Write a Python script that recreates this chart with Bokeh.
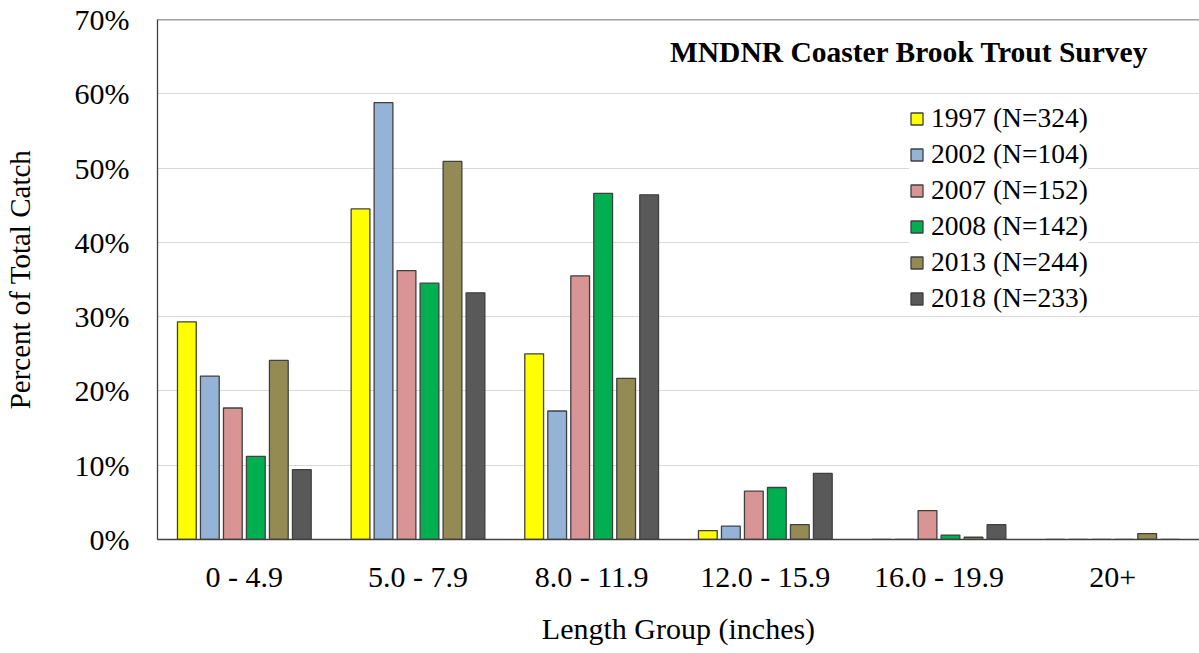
from bokeh.plotting import figure
from bokeh.models import (ColumnDataSource, FactorRange, Range1d, FixedTicker,
                          PrintfTickFormatter, Span, Label, Legend)
from bokeh.transform import dodge
from bokeh.embed import file_html
from bokeh.resources import INLINE

# Length groups (inches) and percent of total catch per survey year
groups = ["0 - 4.9", "5.0 - 7.9", "8.0 - 11.9", "12.0 - 15.9", "16.0 - 19.9", "20+"]
series_names = ["1997 (N=324)", "2002 (N=104)", "2007 (N=152)",
                "2008 (N=142)", "2013 (N=244)", "2018 (N=233)"]
pct_1997 = [29.3, 44.5, 25.0, 1.2, 0.0, 0.0]
pct_2002 = [22.0, 58.8, 17.3, 1.8, 0.0, 0.0]
pct_2007 = [17.7, 36.2, 35.5, 6.5, 3.9, 0.0]
pct_2008 = [11.2, 34.5, 46.6, 7.0, 0.6, 0.0]
pct_2013 = [24.1, 50.9, 21.7, 2.0, 0.3, 0.8]
pct_2018 = [9.4, 33.2, 46.4, 8.9, 2.0, 0.0]
y_ticks = [0, 10, 20, 30, 40, 50, 60, 70]

colors = ["#FFFF00", "#95B3D7", "#D99594", "#00B050", "#948A54", "#595959"]
series = [pct_1997, pct_2002, pct_2007, pct_2008, pct_2013, pct_2018]

SERIF = "Liberation Serif"
EDGE = "#404040"

source = ColumnDataSource(data=dict(group=groups, **{f"s{i}": v for i, v in enumerate(series)}))

p = figure(width=1199, height=653, output_backend="svg", toolbar_location=None,
           x_range=FactorRange(factors=groups, range_padding=0),
           y_range=Range1d(0, 70),
           min_border_left=157, min_border_right=0, min_border_top=19, min_border_bottom=114)
p.outline_line_color = None
p.background_fill_color = "white"
p.border_fill_color = "white"

pitch = 0.1324
bar_w = 0.108
renderers = []
for i, (name, color) in enumerate(zip(series_names, colors)):
    r = p.vbar(x=dodge("group", (i - 2.5) * pitch, range=p.x_range), top=f"s{i}",
               width=bar_w, source=source, fill_color=color,
               line_color=EDGE, line_width=1.3)
    renderers.append((name, [r]))

# frame top edge
p.add_layout(Span(location=70, dimension="width", line_color=EDGE, line_width=1.3))

# axes
p.xgrid.grid_line_color = None
p.ygrid.grid_line_color = "#D9D9D9"
p.ygrid.grid_line_width = 1.2
p.yaxis.ticker = FixedTicker(ticks=y_ticks)
p.yaxis.formatter = PrintfTickFormatter(format="%d%%")
for ax in (p.xaxis[0], p.yaxis[0]):
    ax.axis_line_color = EDGE
    ax.axis_line_width = 1.3
    ax.major_tick_line_color = None
    ax.minor_tick_line_color = None
    ax.major_tick_in = 0
    ax.major_tick_out = 0
    ax.major_label_text_font = SERIF
    ax.major_label_text_font_size = "30px"
    ax.major_label_text_color = "black"
    ax.axis_label_text_font = SERIF
    ax.axis_label_text_font_size = "30px"
    ax.axis_label_text_font_style = "normal"
    ax.axis_label_text_color = "black"

p.yaxis.major_label_standoff = 28
p.yaxis.axis_label = "Percent of Total Catch"
p.yaxis.axis_label_text_font_size = "29px"
p.yaxis.axis_label_standoff = 36
p.xaxis.major_label_standoff = 20
p.xaxis.axis_label = "Length Group (inches)"
p.xaxis.axis_label_standoff = 16
p.xaxis.group_text_font_size = "30px"

# chart title inside the plot area
p.add_layout(Label(x=991, y=488, x_units="screen", y_units="screen",
                   text="MNDNR Coaster Brook Trout Survey",
                   text_align="right", text_baseline="alphabetic",
                   text_font=SERIF, text_font_style="bold",
                   text_font_size="29.5px", text_color="black"))

legend = Legend(items=renderers, location=(752, 223),
                label_text_font=SERIF, label_text_font_size="27.5px",
                label_text_color="black",
                glyph_width=15, glyph_height=15, label_standoff=7,
                label_height=36, spacing=0, padding=3, margin=0,
                background_fill_color="white", background_fill_alpha=1.0,
                border_line_color=None)
p.add_layout(legend)

open("out.html", "w").write(file_html(p, INLINE))
